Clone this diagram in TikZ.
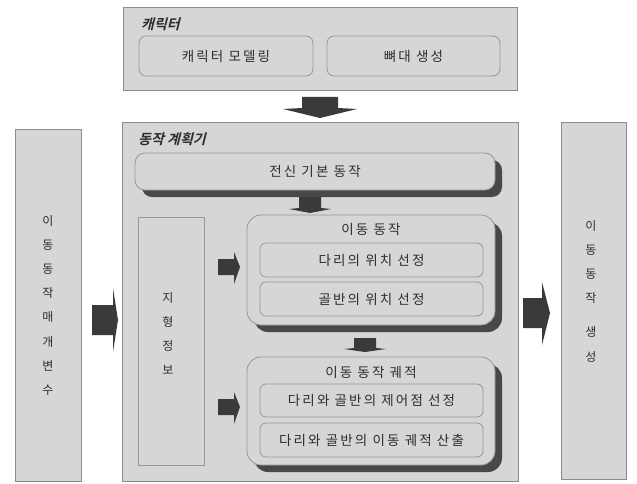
\documentclass[tikz,border=0pt]{standalone}
\usepackage{fontspec}
\setmainfont{Noto Sans CJK KR}[LetterSpace=16]
\newfontfamily\krtitle{Noto Sans CJK KR}[UprightFont=* Bold, FakeSlant=0.25]
\usetikzlibrary{shadows}
\definecolor{boxfill}{RGB}{214,214,214}
\definecolor{boxline}{RGB}{140,140,140}
\definecolor{innerline}{RGB}{150,150,150}
\definecolor{shadowgray}{RGB}{72,72,72}
\definecolor{arrowgray}{RGB}{58,58,58}
\definecolor{txtgray}{RGB}{45,45,45}
\tikzset{
  panel/.style={draw=boxline, fill=boxfill, line width=0.8pt, inner sep=0pt, outer sep=0pt, anchor=north west},
  inbox/.style={draw=innerline, fill=boxfill, line width=0.8pt, rounded corners=7pt, inner sep=0pt, outer sep=0pt, anchor=north west, text=txtgray, font=\fontsize{13.5}{15}\selectfont},
  bigbox/.style={draw=innerline, fill=boxfill, line width=0.8pt, rounded corners=14pt, inner sep=0pt, outer sep=0pt, anchor=north west,
    drop shadow={shadow xshift=7pt, shadow yshift=-7pt, fill=shadowgray, opacity=1}},
  paneltitle/.style={anchor=west, inner sep=0pt, text=txtgray, font=\fontsize{14}{15}\krtitle},
  boxlabel/.style={inner sep=0pt, text=txtgray, font=\fontsize{13.5}{15}\selectfont},
  vtext/.style={inner sep=0pt, text=txtgray, align=center, anchor=north, font=\fontsize{12}{24.2}\selectfont},
  blockarrow/.style={fill=arrowgray}
}
\begin{document}
\begin{tikzpicture}[x=1pt,y=-1pt]
\useasboundingbox (0,0) rectangle (637,484);
% character panel
\node[panel, minimum width=394pt, minimum height=83pt] (char) at (123,7) {};
\node[paneltitle] (chartitle) at (141,24) {캐릭터};
\node[inbox, minimum width=174pt, minimum height=40pt] (model) at (139,36) {캐릭터 모델링};
\node[inbox, minimum width=173pt, minimum height=40pt] (bone) at (327,36) {뼈대 생성};
% planner panel
\node[panel, minimum width=396pt, minimum height=359pt] (plan) at (122,122) {};
\node[paneltitle] (plantitle) at (138,139) {동작 계획기};
\node[inbox, rounded corners=10pt, minimum width=360pt, minimum height=37pt,
  drop shadow={shadow xshift=7pt, shadow yshift=-7pt, fill=shadowgray, opacity=1}] (whole) at (135,153) {전신 기본 동작};
\node[panel, draw=innerline, minimum width=66pt, minimum height=248pt] (terrain) at (138,217) {};
\node[vtext] (terraintxt) at (168,292) {지\\형\\정\\보};
\node[bigbox, minimum width=248pt, minimum height=110pt] (move) at (247,215) {};
\node[boxlabel] (movetxt) at (371,229) {이동 동작};
\node[inbox, rounded corners=6pt, minimum width=223pt, minimum height=34pt] (legpos) at (260,243) {다리의 위치 선정};
\node[inbox, rounded corners=6pt, minimum width=223pt, minimum height=34pt] (pelvpos) at (260,282) {골반의 위치 선정};
\node[bigbox, minimum width=248pt, minimum height=108pt] (traj) at (247,357) {};
\node[boxlabel] (trajtxt) at (371,372) {이동 동작 궤적};
\node[inbox, rounded corners=6pt, minimum width=223pt, minimum height=33pt] (ctrl) at (260,384) {다리와 골반의 제어점 선정};
\node[inbox, rounded corners=6pt, minimum width=223pt, minimum height=34pt] (calc) at (260,423) {다리와 골반의 이동 궤적 산출};
% side panels
\node[panel, minimum width=66pt, minimum height=352pt] (left) at (15,129) {};
\node[vtext] (lefttxt) at (48,215) {이\\동\\동\\작\\매\\개\\변\\수};
\node[panel, minimum width=65pt, minimum height=357pt] (right) at (561,122) {};
\node[vtext] (righttxt) at (591,220) {이\\동\\동\\작\\[10pt]생\\성};
% block arrows
\fill[blockarrow, shift={(char.south)}] (-18,7) -- (18,7) -- (18,18) -- (37,19) -- (0,28) -- (-37,19) -- (-18,18) -- cycle;
\fill[blockarrow, shift={(310,0)}] (-11,197) -- (11,197) -- (11,208) -- (21,209) -- (0,213) -- (-21,209) -- (-11,208) -- cycle;
\fill[blockarrow, shift={(365,0)}] (-11,338) -- (11,338) -- (11,348) -- (21,349) -- (0,352) -- (-21,349) -- (-11,348) -- cycle;
\fill[blockarrow, shift={(0,320)}] (92,-15) -- (113,-15) -- (113,-32) -- (118,0) -- (113,32) -- (113,15) -- (92,15) -- cycle;
\fill[blockarrow, shift={(0,313)}] (523,-15) -- (542,-15) -- (542,-31) -- (550,0) -- (542,32) -- (542,15) -- (523,15) -- cycle;
\fill[blockarrow, shift={(0,267)}] (218,-8) -- (234,-8) -- (234,-15) -- (240,0) -- (234,17) -- (234,8) -- (218,8) -- cycle;
\fill[blockarrow, shift={(0,407)}] (218,-8) -- (234,-8) -- (234,-15) -- (240,0) -- (234,17) -- (234,8) -- (218,8) -- cycle;
\end{tikzpicture}
\end{document}
